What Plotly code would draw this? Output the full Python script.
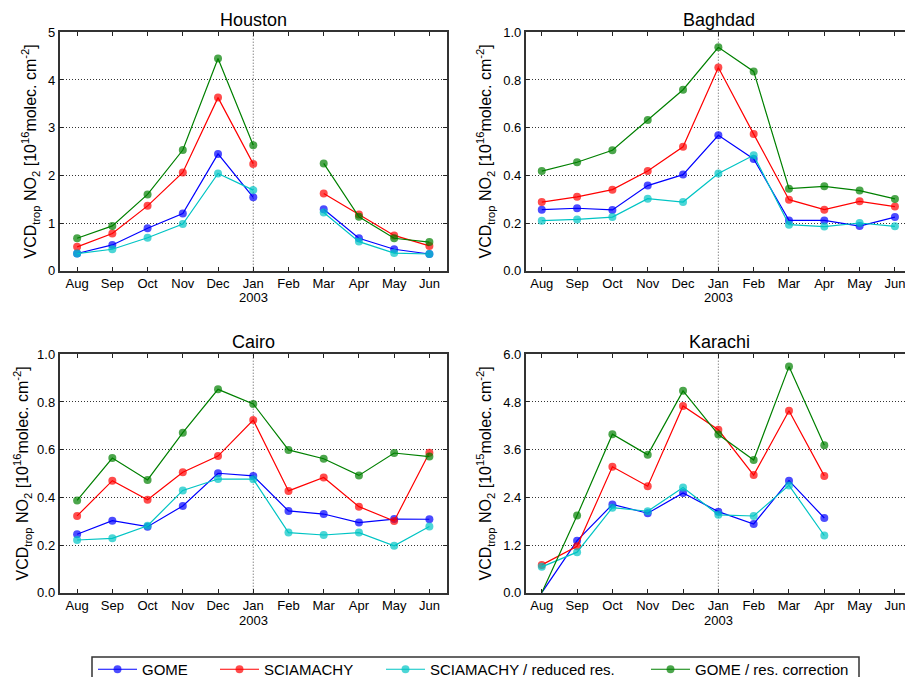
import plotly.graph_objects as go

# ---------------- data ----------------
months = ["Aug", "Sep", "Oct", "Nov", "Dec", "Jan", "Feb", "Mar", "Apr", "May", "Jun"]
year_label = "2003"
series_names = ["GOME", "SCIAMACHY", "SCIAMACHY / reduced res.", "GOME / res. correction"]
cities = ["Houston", "Baghdad", "Cairo", "Karachi"]

houston_gome = [0.36, 0.54, 0.89, 1.20, 2.45, 1.54, None, 1.29, 0.68, 0.45, 0.35]
houston_scia = [0.50, 0.78, 1.36, 2.06, 3.63, 2.24, None, 1.62, 1.18, 0.74, 0.52]
houston_scia_red = [0.36, 0.45, 0.69, 0.98, 2.04, 1.69, None, 1.22, 0.61, 0.37, 0.35]
houston_gome_corr = [0.68, 0.94, 1.60, 2.53, 4.45, 2.63, None, 2.25, 1.13, 0.68, 0.60]

baghdad_gome = [0.256, 0.262, 0.255, 0.357, 0.403, 0.568, 0.469, 0.211, 0.211, 0.187, 0.225]
baghdad_scia = [0.288, 0.310, 0.340, 0.418, 0.520, 0.852, 0.573, 0.298, 0.256, 0.291, 0.269]
baghdad_scia_red = [0.210, 0.215, 0.225, 0.302, 0.288, 0.408, 0.484, 0.193, 0.185, 0.200, 0.186]
baghdad_gome_corr = [0.418, 0.455, 0.505, 0.632, 0.759, 0.937, 0.836, 0.344, 0.354, 0.336, 0.301]

cairo_gome = [0.245, 0.302, 0.277, 0.364, 0.501, 0.490, 0.343, 0.330, 0.294, 0.309, 0.308]
cairo_scia = [0.322, 0.470, 0.390, 0.505, 0.573, 0.724, 0.427, 0.483, 0.361, 0.301, 0.587]
cairo_scia_red = [0.221, 0.228, 0.281, 0.429, 0.477, 0.476, 0.252, 0.242, 0.252, 0.197, 0.278]
cairo_gome_corr = [0.387, 0.565, 0.473, 0.671, 0.853, 0.792, 0.599, 0.562, 0.492, 0.586, 0.571]

karachi_gome = [0.0, 1.31, 2.22, 2.00, 2.51, 2.04, 1.73, 2.82, 1.88, None, None]
karachi_scia = [0.70, 1.17, 3.17, 2.68, 4.70, 4.10, 2.96, 4.58, 2.94, None, None]
karachi_scia_red = [0.65, 1.02, 2.14, 2.05, 2.65, 1.96, 1.93, 2.70, 1.44, None, None]
karachi_gome_corr = [0.0, 1.94, 3.99, 3.47, 5.08, 3.98, 3.34, 5.69, 3.71, None, None]

houston_yticks = [0, 1, 2, 3, 4, 5]
baghdad_yticks = [0.0, 0.2, 0.4, 0.6, 0.8, 1.0]
cairo_yticks = [0.0, 0.2, 0.4, 0.6, 0.8, 1.0]
karachi_yticks = [0.0, 1.2, 2.4, 3.6, 4.8, 6.0]

ytitle16 = "VCD<sub>trop</sub> NO<sub>2</sub> [10<sup>16</sup>molec. cm<sup>-2</sup>]"
ytitle15 = "VCD<sub>trop</sub> NO<sub>2</sub> [10<sup>15</sup>molec. cm<sup>-2</sup>]"

# ---------------- styling ----------------
colors = ["#0000ff", "#ff0000", "#00c4c4", "#008000"]
W, H = 905, 677
FONT = "Liberation Sans, Arial, Helvetica, sans-serif"
DOT = "1px,2px"


def fx(p):
    return p / W


def fy(p):
    return 1 - p / H


panels = [
    dict(name=cities[0], data=[houston_gome, houston_scia, houston_scia_red, houston_gome_corr],
         yticks=houston_yticks, fmt="d", ytitle=ytitle16,
         xdom=[fx(59.5), fx(447)], ydom=[fy(270.7), fy(32.3)], xr=[-0.5, 10.5],
         tx=fx(253.5), ty=fy(20), ytx=30, yty=151.5, yry=298),
    dict(name=cities[1], data=[baghdad_gome, baghdad_scia, baghdad_scia_red, baghdad_gome_corr],
         yticks=baghdad_yticks, fmt=".1f", ytitle=ytitle16,
         xdom=[fx(525.7), 1.0], ydom=[fy(270.7), fy(32.3)], xr=[-0.455, 10.285],
         tx=fx(719), ty=fy(20), ytx=485, yty=151.5, yry=298),
    dict(name=cities[2], data=[cairo_gome, cairo_scia, cairo_scia_red, cairo_gome_corr],
         yticks=cairo_yticks, fmt=".1f", ytitle=ytitle16,
         xdom=[fx(59.5), fx(447)], ydom=[fy(592.7), fy(354.3)], xr=[-0.5, 10.5],
         tx=fx(253.5), ty=fy(342), ytx=22, yty=473.5, yry=620),
    dict(name=cities[3], data=[karachi_gome, karachi_scia, karachi_scia_red, karachi_gome_corr],
         yticks=karachi_yticks, fmt=".1f", ytitle=ytitle15,
         xdom=[fx(525.7), 1.0], ydom=[fy(592.7), fy(354.3)], xr=[-0.455, 10.285],
         tx=fx(719), ty=fy(342), ytx=485, yty=473.5, yry=620),
]

legend_ids = ["legend", "legend2", "legend3", "legend4"]
legend_symbol_px = [100, 222, 388, 653]

xidx = list(range(len(months)))
jan_pos = months.index("Jan")

fig = go.Figure()
annotations = []
shapes = []

for i, p in enumerate(panels):
    n = "" if i == 0 else str(i + 1)
    xa, ya = "x" + n, "y" + n
    for s, (vals, name, col) in enumerate(zip(p["data"], series_names, colors)):
        sizes = [0 if v == 0 else 8 for v in vals]
        fig.add_trace(go.Scatter(
            x=xidx, y=vals, mode="lines+markers", name=name,
            line=dict(color=col, width=1.2),
            marker=dict(color=col, size=sizes, line=dict(width=0)),
            xaxis=xa, yaxis=ya, showlegend=(i == 0), legendgroup=name,
            legend=legend_ids[s],
        ))
    ymax = p["yticks"][-1]
    fig.layout["xaxis" + n] = dict(
        domain=p["xdom"], range=p["xr"], anchor=ya,
        tickvals=xidx, ticktext=months, ticks="inside", ticklen=4, tickcolor="#222",
        showline=True, linecolor="#333", linewidth=1.5, mirror="allticks",
        showgrid=False, zeroline=False, fixedrange=True, ticklabeloverflow="allow",
        tickfont=dict(family=FONT, size=13, color="black"),
    )
    fig.layout["yaxis" + n] = dict(
        domain=p["ydom"], range=[0, ymax], anchor=xa,
        tickvals=p["yticks"], tickformat=p["fmt"], ticks="inside", ticklen=4, tickcolor="#222",
        showline=True, linecolor="#333", linewidth=1.5,
        mirror=("allticks" if p["xdom"][1] < 1 else False),
        showgrid=True, gridcolor="#333", griddash=DOT, gridwidth=1,
        zeroline=False, fixedrange=True,
        tickfont=dict(family=FONT, size=13, color="black"),
    )
    annotations.append(dict(
        text=p["name"], x=p["tx"], y=p["ty"], xref="paper", yref="paper",
        xanchor="center", yanchor="middle", showarrow=False,
        font=dict(family=FONT, size=18, color="black"),
    ))
    annotations.append(dict(
        text=p["ytitle"], x=fx(p["ytx"]), y=fy(p["yty"]), xref="paper", yref="paper",
        xanchor="center", yanchor="middle", showarrow=False, textangle=-90,
        font=dict(family=FONT, size=16, color="black"),
    ))
    annotations.append(dict(
        text=year_label, x=jan_pos, y=fy(p["yry"]), xref=xa, yref="paper",
        xanchor="center", yanchor="middle", showarrow=False,
        font=dict(family=FONT, size=13, color="black"),
    ))
    shapes.append(dict(
        type="line", xref=xa, yref=ya + " domain", x0=jan_pos, x1=jan_pos, y0=0, y1=1,
        line=dict(color="#555", width=1, dash=DOT), layer="below",
    ))

# legend frame
shapes.append(dict(
    type="rect", xref="paper", yref="paper", x0=fx(92), x1=fx(859), y0=fy(700), y1=fy(657),
    line=dict(color="#333", width=1.5), fillcolor="rgba(0,0,0,0)", layer="above",
))

layout_legends = {}
for lid, sx in zip(legend_ids, legend_symbol_px):
    layout_legends[lid] = dict(
        orientation="h", x=fx(sx - 7), y=fy(653), xanchor="left", yanchor="top",
        borderwidth=0, bgcolor="rgba(0,0,0,0)",
        font=dict(family=FONT, size=15, color="black"),
        itemwidth=39,
    )

fig.update_layout(
    width=W, height=H,
    margin=dict(l=0, r=0, t=0, b=0, pad=0, autoexpand=False),
    paper_bgcolor="white", plot_bgcolor="white",
    annotations=annotations, shapes=shapes,
    showlegend=True,
    **layout_legends,
)

fig.write_html("out.html")
